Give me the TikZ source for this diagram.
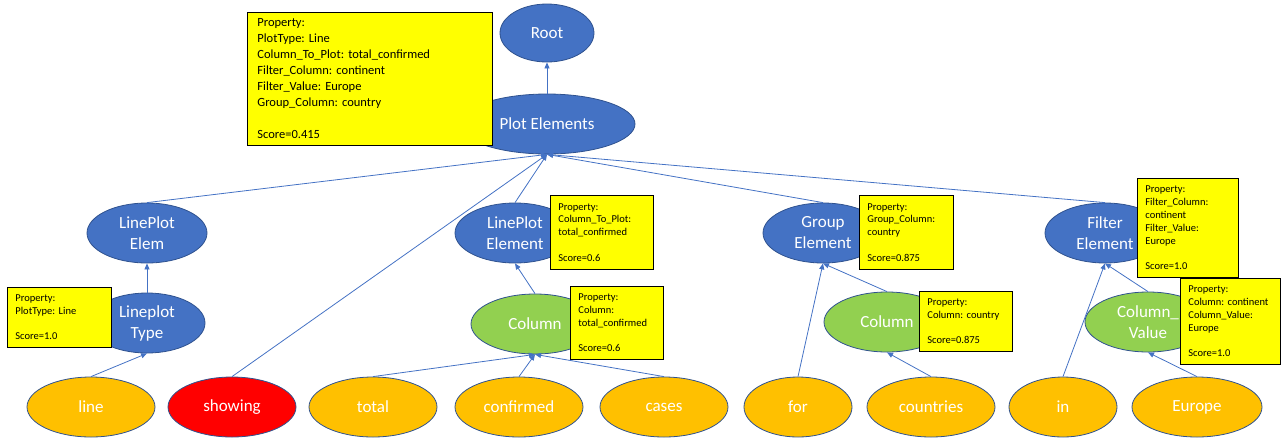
\documentclass[tikz,border=0pt]{standalone}
\usepackage{fontspec}
\setmainfont{Carlito}
\usepackage{tikz}
\usetikzlibrary{shapes.geometric, arrows.meta}
\definecolor{elemblue}{RGB}{68, 114, 196}
\definecolor{rimblue}{RGB}{47, 82, 143}
\definecolor{colgreen}{RGB}{146, 208, 80}
\definecolor{wordorange}{RGB}{255, 192, 0}
\definecolor{propyellow}{RGB}{255, 255, 0}
\frenchspacing

\begin{document}
\begin{tikzpicture}[
    x=1pt, y=1pt,
    oval/.style={ellipse, draw=rimblue, line width=0.8pt, inner sep=0pt, minimum height=60pt, text=white, align=center, font=\fontsize{17}{21}\selectfont},
    elem/.style={oval, fill=elemblue, minimum width=120pt},
    colnode/.style={oval, fill=colgreen, minimum width=126pt},
    word/.style={oval, fill=wordorange, minimum width=128pt},
    propbox/.style={draw=black, line width=0.8pt, fill=propyellow, anchor=north west, align=left, inner xsep=8pt, inner ysep=0pt, font=\fontsize{10.5}{12.8}\selectfont},
    arrow/.style={-{Triangle[length=6pt, width=5pt]}, draw=elemblue, line width=0.8pt}
]
    \useasboundingbox (0,0) rectangle (1286,-437);

    % Tree nodes
    \node[elem, minimum width=94pt, minimum height=58pt] (root) at (547,-33) {Root};
    \node[elem, minimum width=176pt] (plotelem) at (547,-124) {Plot Elements};
    \node[elem] (lpelem) at (147,-233) {LinePlot\\Elem};
    \node[elem, minimum width=116pt] (lptype) at (147,-323) {Lineplot\\Type};
    \node[elem] (lpelement) at (515,-233) {LinePlot\\Element};
    \node[colnode, minimum width=128pt] (colA) at (535,-324) {Column};
    \node[elem] (grpelem) at (823,-233) {Group\\Element};
    \node[colnode] (colB) at (887,-322) {Column};
    \node[elem] (filelem) at (1105,-233) {Filter\\Element};
    \node[colnode] (colval) at (1148,-322) {Column\_\\Value};

    % Words of the sentence
    \node[word] (wline) at (91,-407) {line};
    \node[word, fill=red] (wshowing) at (232,-407) {showing};
    \node[word] (wtotal) at (373,-407) {total};
    \node[word] (wconfirmed) at (519,-407) {confirmed};
    \node[word] (wcases) at (664,-407) {cases};
    \node[word, minimum width=108pt] (wfor) at (798,-407) {for};
    \node[word] (wcountries) at (931,-407) {countries};
    \node[word, minimum width=108pt] (win) at (1063,-407) {in};
    \node[word, minimum width=130pt] (weurope) at (1197,-407) {Europe};

    % Links to parents
    \draw[arrow] (plotelem.north) -- (root.south);
    \draw[arrow] (lpelem.north) -- (plotelem.south);
    \draw[arrow] (wshowing.north) -- (plotelem.south);
    \draw[arrow] (lpelement.north) -- (plotelem.south);
    \draw[arrow] (grpelem.north) -- (plotelem.south);
    \draw[arrow] (filelem.north) -- (plotelem.south);
    \draw[arrow] (lptype.north) -- (lpelem.south);
    \draw[arrow] (wline.north) -- (lptype.south);
    \draw[arrow] (colA.north) -- (lpelement.south);
    \draw[arrow] (wtotal.north) -- (colA.south);
    \draw[arrow] (wconfirmed.north) -- (colA.south);
    \draw[arrow] (wcases.north) -- (colA.south);
    \draw[arrow] (colB.north) -- (grpelem.south);
    \draw[arrow] (wfor.north) -- (grpelem.south);
    \draw[arrow] (wcountries.north) -- (colB.south);
    \draw[arrow] (colval.north) -- (filelem.south);
    \draw[arrow] (win.north) -- (filelem.south);
    \draw[arrow] (weurope.north) -- (colval.south);

    % Property boxes
    \node[propbox, font=\fontsize{12.5}{16}\selectfont, inner xsep=10pt, text width=225pt, minimum height=133pt] (propall) at (247,-12)
        {Property:\\PlotType: Line\\Column\_To\_Plot: total\_confirmed\\Filter\_Column: continent\\Filter\_Value: Europe\\Group\_Column: country\\[16pt]Score=0.415};
    \node[propbox, text width=88pt, minimum height=60pt] (proptype) at (7,-287)
        {Property:\\PlotType: Line\\[12.8pt]Score=1.0};
    \node[propbox, text width=87pt, minimum height=74pt] (propline) at (550,-195)
        {Property:\\Column\_To\_Plot:\\total\_confirmed\\[12.8pt]Score=0.6};
    \node[propbox, text width=77pt, minimum height=73pt] (propcolA) at (570,-286)
        {Property:\\Column:\\total\_confirmed\\[12.8pt]Score=0.6};
    \node[propbox, text width=78pt, minimum height=74pt] (propgroup) at (859,-195)
        {Property:\\Group\_Column:\\country\\[12.8pt]Score=0.875};
    \node[propbox, text width=77pt, minimum height=60pt] (propcolB) at (919,-291)
        {Property:\\Column: country\\[12.8pt]Score=0.875};
    \node[propbox, text width=85pt, minimum height=99pt] (propfilter) at (1137,-178)
        {Property:\\Filter\_Column:\\continent\\Filter\_Value:\\Europe\\[12.8pt]Score=1.0};
    \node[propbox, text width=84pt, minimum height=86pt] (propvalue) at (1180,-278)
        {Property:\\Column: continent\\Column\_Value:\\Europe\\[12.8pt]Score=1.0};
\end{tikzpicture}
\end{document}
